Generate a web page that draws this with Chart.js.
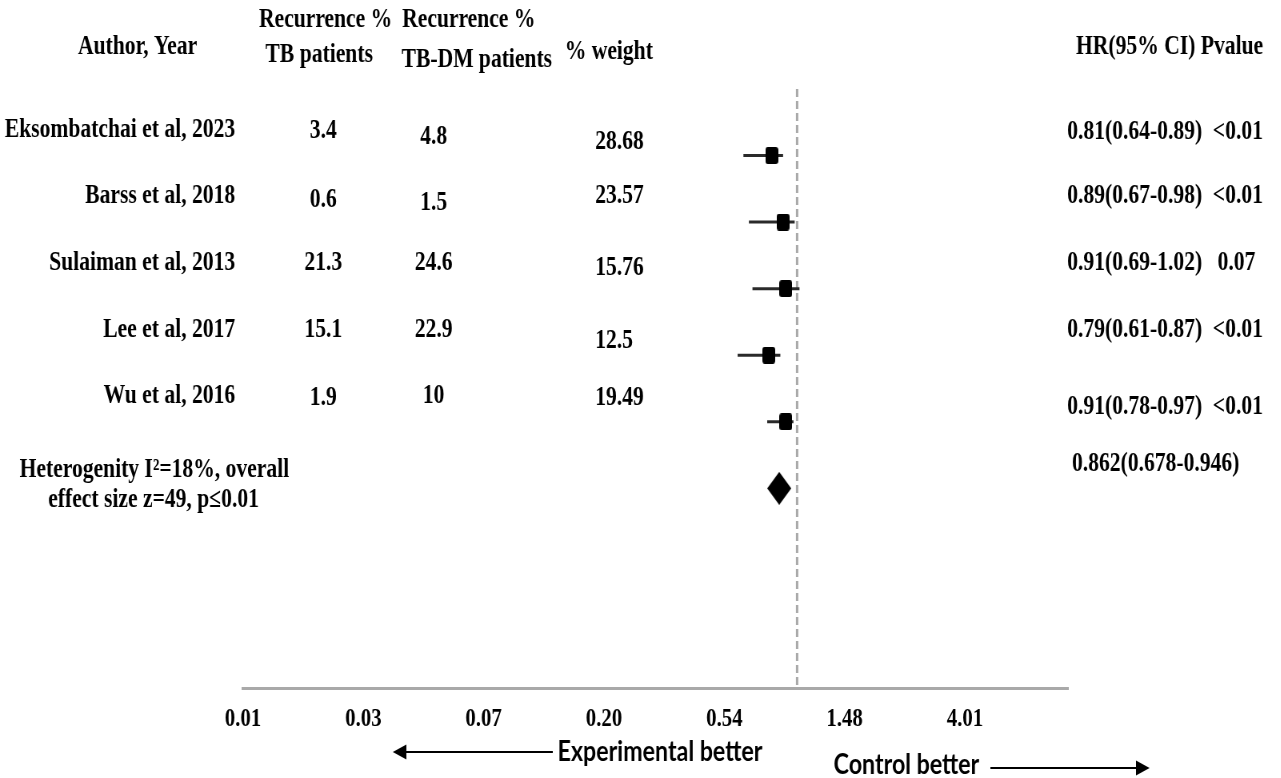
<!DOCTYPE html>
<html>
<head>
<meta charset="utf-8">
<title>Forest plot: TB recurrence, TB vs TB-DM</title>
<script src="https://cdn.jsdelivr.net/npm/chart.js@4.4.1/dist/chart.umd.min.js"></script>
<style>
  html, body { margin: 0; padding: 0; background: #fff; overflow: hidden; width: 1281px; height: 778px; }
  /* the figure is laid out wide and then narrowed, giving its condensed look */
  #wrap { position: absolute; left: 0; top: 0; width: 1601px; height: 778px; transform: scaleX(0.8); transform-origin: 0 0; }
  canvas { display: block; }
</style>
</head>
<body>
<div id="wrap"><canvas id="forest" width="1601" height="778"></canvas></div>
<script>
// ---- study data ----
const studies   = ['Eksombatchai et al, 2023', 'Barss et al, 2018', 'Sulaiman et al, 2013', 'Lee et al, 2017', 'Wu et al, 2016'];
const recurTB   = [3.4, 0.6, 21.3, 15.1, 1.9];
const recurTBDM = [4.8, 1.5, 24.6, 22.9, 10];
const weights   = [28.68, 23.57, 15.76, 12.5, 19.49];
const hr        = [0.81, 0.89, 0.91, 0.79, 0.91];
const ciLow     = [0.64, 0.67, 0.69, 0.61, 0.78];
const ciHigh    = [0.89, 0.98, 1.02, 0.87, 0.97];
const pValues   = ['<0.01', '<0.01', '0.07', '<0.01', '<0.01'];
const pooledHR  = [0.862];
const pooledLow = [0.678];
const pooledHigh = [0.946];

// ---- axis ticks (log scale) ----
const tickValues = [0.01, 0.0272, 0.0739, 0.2009, 0.546, 1.4841, 4.0343];
const tickLabels = ['0.01', '0.03', '0.07', '0.20', '0.54', '1.48', '4.01'];

// ---- text layout: vertical offsets of each column's text from its row ----
const offName = [-26, -26, -26, -25, -26];
const offTB   = [-25, -22, -26, -25, -24];
const offDM   = [-19, -19, -26, -25, -26];
const offW    = [-14, -26, -21, -14, -24];
const offHR   = [-24, -26, -26, -25, -15];

// ---- marker sprites ----
function squareSprite(w, h, r) {
  const c = document.createElement('canvas');
  c.width = w; c.height = h;
  const g = c.getContext('2d');
  g.fillStyle = '#000';
  g.beginPath();
  g.moveTo(r, 0); g.lineTo(w - r, 0); g.quadraticCurveTo(w, 0, w, r);
  g.lineTo(w, h - r); g.quadraticCurveTo(w, h, w - r, h);
  g.lineTo(r, h); g.quadraticCurveTo(0, h, 0, h - r);
  g.lineTo(0, r); g.quadraticCurveTo(0, 0, r, 0);
  g.closePath(); g.fill();
  return c;
}
function diamondSprite(w, h) {
  const c = document.createElement('canvas');
  c.width = w; c.height = h;
  const g = c.getContext('2d');
  g.fillStyle = '#000';
  g.beginPath();
  g.moveTo(w / 2, 0); g.lineTo(w, h / 2); g.lineTo(w / 2, h); g.lineTo(0, h / 2);
  g.closePath(); g.fill();
  return c;
}
const squareMark = squareSprite(16, 17, 3);
const diamondMark = diamondSprite(30, 33);

// ---- datasets ----
const ciLines = studies.map((name, i) => ({
  type: 'line',
  label: name + ' CI',
  data: [{ x: ciLow[i], y: i + 1 }, { x: ciHigh[i], y: i + 1 }],
  borderColor: '#2a2a2a',
  borderWidth: 3,
  pointRadius: 0,
  order: 3
}));

const datasets = [
  {
    type: 'scatter',
    label: 'HR',
    data: hr.map((v, i) => ({ x: v, y: i + 1 })),
    pointStyle: squareMark,
    pointRadius: 9,
    order: 1
  },
  {
    type: 'scatter',
    label: 'Pooled HR',
    data: pooledHR.map(v => ({ x: v, y: studies.length + 1 })),
    pointStyle: diamondMark,
    pointRadius: 14,
    order: 1
  },
  ...ciLines,
  {
    type: 'line',
    label: 'No effect',
    data: [{ x: 1, y: 0 }, { x: 1, y: 9 }],
    borderColor: '#a9a9a9',
    borderWidth: 3,
    borderDash: [8, 4],
    pointRadius: 0,
    order: 10
  }
];

// ---- table text, headers and direction arrows ----
const SERIF = 'bold 27px "Liberation Serif", "Times New Roman", serif';
const SANS = 'bold 29px Lato, "Liberation Sans", sans-serif';

function arrow(ctx, x0, x1, y, head) {
  // line from x0 to x1, with the arrow head at x1
  const dir = Math.sign(x1 - x0);
  ctx.beginPath();
  ctx.moveTo(x0, y);
  ctx.lineTo(x1 - dir * head, y);
  ctx.stroke();
  ctx.beginPath();
  ctx.moveTo(x1, y);
  ctx.lineTo(x1 - dir * head, y - 7.5);
  ctx.lineTo(x1 - dir * head, y + 7.5);
  ctx.closePath();
  ctx.fill();
}

const forestTable = {
  id: 'forestTable',
  afterDraw(chart) {
    const ctx = chart.ctx;
    const ys = chart.scales.y;
    ctx.save();
    ctx.fillStyle = '#000';
    ctx.strokeStyle = '#000';
    ctx.textBaseline = 'middle';
    ctx.font = SERIF;
    const put = (t, x, y, align) => { ctx.textAlign = align; ctx.fillText(t, x, y); };

    // column headers
    put('Author, Year', 172, 47, 'center');
    put('Recurrence %', 407, 20, 'center');
    put('TB patients', 399, 55, 'center');
    put('Recurrence %', 586, 20, 'center');
    put('TB-DM patients', 596, 60, 'center');
    put('% weight', 761, 52, 'center');
    put('HR(95% CI) Pvalue', 1462, 47, 'center');

    // study rows
    studies.forEach((name, i) => {
      const py = ys.getPixelForValue(i + 1);
      put(name, 294, py + offName[i], 'right');
      put(String(recurTB[i]), 404, py + offTB[i], 'center');
      put(String(recurTBDM[i]), 542, py + offDM[i], 'center');
      put(String(weights[i]), 744, py + offW[i], 'left');
      put(hr[i].toFixed(2) + '(' + ciLow[i].toFixed(2) + '-' + ciHigh[i].toFixed(2) + ')', 1334, py + offHR[i], 'left');
      put(pValues[i], pValues[i].startsWith('<') ? 1516 : 1522, py + offHR[i], 'left');
    });

    // pooled row
    const pp = ys.getPixelForValue(studies.length + 1);
    put('Heterogenity I\u00B2=18%, overall', 193, pp - 18, 'center');
    put('effect size z=49, p\u22640.01', 192, pp + 12, 'center');
    put(pooledHR[0].toFixed(3) + '(' + pooledLow[0].toFixed(3) + '-' + pooledHigh[0].toFixed(3) + ')', 1340, pp - 24, 'left');

    // direction labels
    ctx.font = SANS;
    ctx.lineWidth = 2;
    put('Experimental better', 697, 752, 'left');
    arrow(ctx, 691, 491, 752, 17);
    put('Control better', 1042, 765, 'left');
    arrow(ctx, 1238, 1437, 768, 17);
    ctx.restore();
  }
};

new Chart(document.getElementById('forest'), {
  type: 'scatter',
  data: { datasets },
  options: {
    responsive: false,
    devicePixelRatio: 1,
    animation: false,
    events: [],
    layout: { padding: { left: 303.75, right: 266, top: 89, bottom: 0 } },
    plugins: { legend: { display: false }, tooltip: { enabled: false } },
    scales: {
      x: {
        type: 'logarithmic',
        position: 'bottom',
        min: 0.01,
        max: 9.5,
        afterBuildTicks(scale) { scale.ticks = tickValues.map(v => ({ value: v })); },
        afterFit(scale) { scale.height = 90; },
        grid: { display: true, drawOnChartArea: false, drawTicks: false },
        border: { display: true, color: '#a9a9a9', width: 3 },
        ticks: {
          autoSkip: false,
          maxRotation: 0,
          padding: 16,
          color: '#000',
          font: { family: '"Liberation Serif", "Times New Roman", serif', size: 26, weight: 'bold' },
          callback: (v, i) => tickLabels[i]
        }
      },
      y: {
        type: 'linear',
        min: 0,
        max: 9,
        reverse: true,
        display: false
      }
    }
  },
  plugins: [forestTable]
});
</script>
</body>
</html>
